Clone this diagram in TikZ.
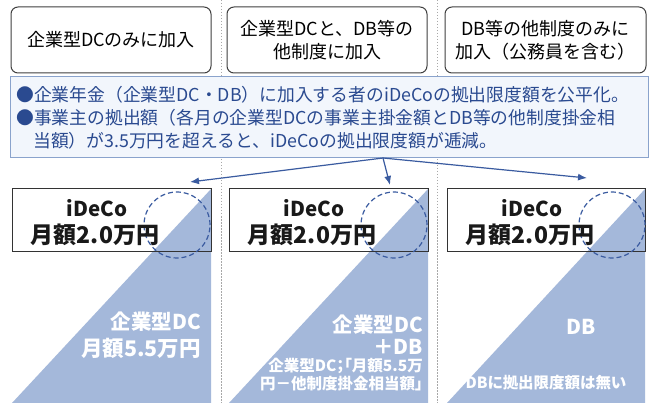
\documentclass[tikz,border=0pt]{standalone}
\usepackage{fontspec}
\setmainfont{Noto Sans CJK JP}
\newfontfamily\jpp{Noto Sans CJK JP}[RawFeature=+palt]
\usetikzlibrary{arrows.meta}
\definecolor{tri}{HTML}{A4B8DA}
\definecolor{navy}{HTML}{2A4A90}
\definecolor{arr}{HTML}{3A5BA0}
\definecolor{ibfill}{HTML}{F2F6FC}
\definecolor{ibdraw}{HTML}{8AA3CC}
\definecolor{sepc}{HTML}{A8A8A8}
\begin{document}
\begin{tikzpicture}[x=1pt,y=-1pt,
  sepline/.style={draw=sepc, line width=0.8pt, dash pattern=on 1.5pt off 1.5pt},
  topbox/.style={draw=black!75, rounded corners=7pt, line width=1pt, fill=white, align=center,
    minimum height=66pt, inner sep=0pt, font=\fontsize{18}{23}\selectfont},
  infobox/.style={draw=ibdraw, line width=1pt, fill=ibfill, minimum width=638pt, minimum height=81pt, inner sep=0pt},
  infotxt/.style={anchor=west, inner sep=0pt, text=navy, font=\fontsize{17.8}{20}\selectfont},
  conn/.style={draw=arr, line width=1.2pt, -{Latex[length=9pt,width=7pt]}},
  pbox/.style={draw=black!80, line width=1pt, minimum height=63pt, inner sep=0pt},
  circ/.style={draw=arr, line width=1.2pt, dash pattern=on 5pt off 3pt, circle, minimum size=66pt, inner sep=0pt},
  btxt/.style={inner sep=0pt, font=\fontsize{20.5}{24}\selectfont\bfseries, text=black!90},
  mtxt/.style={inner sep=0pt, font=\fontsize{23}{26}\selectfont\bfseries, text=black!90},
  wtxt/.style={inner sep=0pt, font=\fontsize{20.5}{24}\selectfont\bfseries, text=white},
  stxt/.style={inner sep=0pt, font=\jpp\fontsize{15.5}{18}\selectfont\bfseries, text=white}
]
\useasboundingbox (0,0) rectangle (650,403);
\fill[white] (0,0) rectangle (650,403);
% separators
\coordinate (s1t) at (221,0); \coordinate (s1b) at (221,403);
\coordinate (s2t) at (437,0); \coordinate (s2b) at (437,403);
\draw[sepline] (s1t) -- (s1b);
\draw[sepline] (s2t) -- (s2b);
% top boxes
\node[topbox, minimum width=200pt] (t1) at (111,40) {企業型DCのみに加入};
\node[topbox, minimum width=200pt] (t2) at (327,40) {企業型DCと、DB等の\\他制度に加入};
\node[topbox, minimum width=201pt] (t3) at (545.5,40) {DB等の他制度のみに\\加入（公務員を含む）};
% info box
\node[infobox] (info) at (329,117.5) {};
\node[infotxt] (l1) at (16,95) {●企業年金（企業型DC・DB）に加入する者のiDeCoの拠出限度額を公平化。};
\node[infotxt] (l2) at (16,118) {●事業主の拠出額（各月の企業型DCの事業主掛金額とDB等の他制度掛金相};
\node[infotxt] (l3) at (33,141) {当額）が3.5万円を超えると、iDeCoの拠出限度額が逓減。};
% arrows
\coordinate (src) at (383,158);
\coordinate (e1) at (190,182);
\coordinate (e2) at (390,185);
\coordinate (e3) at (587,178);
\draw[conn] (src) -- (e1);
\draw[conn] (src) -- (e2);
\draw[conn] (src) -- (e3);
% triangles
\fill[tri] (12,403) -- (211,189) -- (211,403) -- cycle;
\fill[tri] (229,403) -- (428,189) -- (428,403) -- cycle;
\fill[tri] (447,403) -- (645,189) -- (645,403) -- cycle;
% panel boxes
\node[pbox, minimum width=199pt] (p1) at (111.5,220.5) {};
\node[pbox, minimum width=199pt] (p2) at (328.5,220.5) {};
\node[pbox, minimum width=198pt] (p3) at (546,220.5) {};
% circles
\node[circ] (c1) at (177,225) {};
\node[circ] (c2) at (394,225) {};
\node[circ] (c3) at (612,225) {};
% panel texts
\node[btxt] (i1) at (97,208) {iDeCo};
\node[mtxt] (m1) at (95,235) {月額2.0万円};
\node[btxt] (i2) at (314,208) {iDeCo};
\node[mtxt] (m2) at (312,235) {月額2.0万円};
\node[btxt] (i3) at (532,208) {iDeCo};
\node[mtxt] (m3) at (530,235) {月額2.0万円};
\node[wtxt, anchor=east] (w1a) at (201,322) {企業型DC};
\node[wtxt, anchor=east, font=\fontsize{21.5}{24}\selectfont\bfseries] (w1b) at (201,348) {月額5.5万円};
\node[wtxt, anchor=east] (w2a) at (423,325) {企業型DC};
\node[wtxt, anchor=east] (w2b) at (423,347) {＋DB};
\node[stxt, anchor=east] (s2a) at (423,366) {企業型DC；「月額5.5万};
\node[stxt, anchor=east] (s2b) at (423,384) {円－他制度掛金相当額」};
\node[wtxt] (w3a) at (581,327) {DB};
\node[stxt] (s3) at (546,383) {DBに拠出限度額は無い};
\end{tikzpicture}
\end{document}
